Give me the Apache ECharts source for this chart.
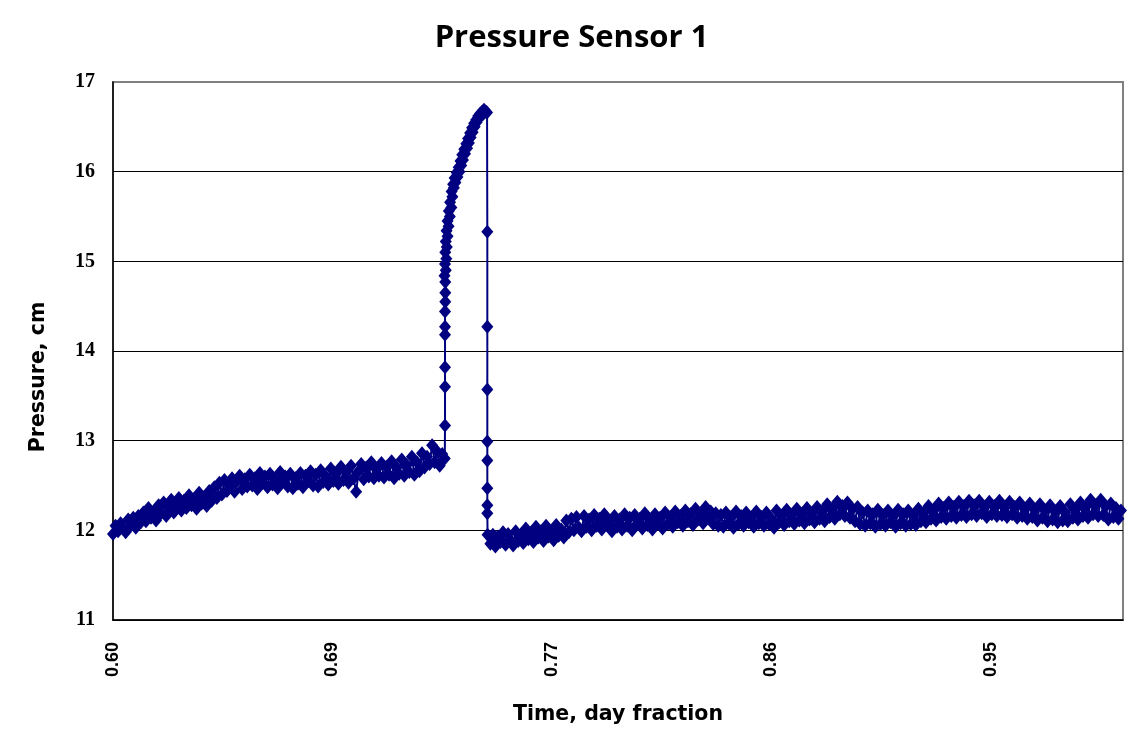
<!DOCTYPE html>
<html>
<head>
<meta charset="utf-8">
<title>Pressure Sensor 1</title>
<script src="https://cdn.jsdelivr.net/npm/echarts@6.0.0/dist/echarts.min.js"></script>
<style>
  html, body { margin: 0; padding: 0; background: #fff; }
  #chart { width: 1143px; height: 747px; }
</style>
</head>
<body>
<div id="chart"></div>
<script>
// readings [time (day fraction), pressure (cm)]
var beforeEvent = [
  [0.600, 11.96], [0.601, 12.05], [0.602, 11.99], [0.603, 12.08], [0.604, 12.02],
  [0.605, 11.98], [0.606, 12.12], [0.607, 12.05], [0.608, 12.14], [0.609, 12.03],
  [0.610, 12.16], [0.611, 12.09], [0.612, 12.20], [0.613, 12.10], [0.614, 12.25],
  [0.615, 12.14], [0.616, 12.21], [0.617, 12.11], [0.618, 12.28], [0.619, 12.19],
  [0.620, 12.31], [0.621, 12.16], [0.622, 12.27], [0.623, 12.34], [0.624, 12.20],
  [0.625, 12.30], [0.626, 12.36], [0.627, 12.22], [0.628, 12.33], [0.629, 12.25],
  [0.630, 12.39], [0.631, 12.28], [0.632, 12.35], [0.633, 12.24], [0.634, 12.42],
  [0.635, 12.30], [0.636, 12.37], [0.637, 12.27], [0.638, 12.44], [0.639, 12.33],
  [0.640, 12.48], [0.641, 12.36], [0.642, 12.53], [0.643, 12.40], [0.644, 12.56],
  [0.645, 12.44], [0.646, 12.50], [0.647, 12.58], [0.648, 12.43], [0.649, 12.55],
  [0.650, 12.61], [0.651, 12.46], [0.652, 12.57], [0.653, 12.49], [0.654, 12.62],
  [0.655, 12.50], [0.656, 12.58], [0.657, 12.46], [0.658, 12.64], [0.659, 12.53],
  [0.660, 12.60], [0.661, 12.48], [0.662, 12.63], [0.663, 12.51], [0.664, 12.57],
  [0.665, 12.47], [0.666, 12.65], [0.667, 12.54], [0.668, 12.60], [0.669, 12.49],
  [0.670, 12.63], [0.671, 12.47], [0.672, 12.58], [0.673, 12.52], [0.674, 12.64],
  [0.675, 12.48], [0.676, 12.61], [0.677, 12.55], [0.678, 12.66], [0.679, 12.50],
  [0.680, 12.62], [0.681, 12.49], [0.682, 12.67], [0.683, 12.54], [0.684, 12.60],
  [0.685, 12.51], [0.686, 12.69], [0.687, 12.55], [0.688, 12.63], [0.689, 12.52],
  [0.690, 12.71], [0.691, 12.56], [0.692, 12.65], [0.693, 12.53], [0.694, 12.72],
  [0.695, 12.58], [0.696, 12.43], [0.697, 12.66], [0.698, 12.74], [0.699, 12.57],
  [0.700, 12.70], [0.701, 12.60], [0.702, 12.76], [0.703, 12.58], [0.704, 12.68],
  [0.705, 12.61], [0.706, 12.75], [0.707, 12.59], [0.708, 12.71], [0.709, 12.62],
  [0.710, 12.77], [0.711, 12.58], [0.712, 12.70], [0.713, 12.63], [0.714, 12.79],
  [0.715, 12.61], [0.716, 12.73], [0.717, 12.65], [0.718, 12.82], [0.719, 12.62],
  [0.720, 12.76], [0.721, 12.66], [0.722, 12.86], [0.723, 12.70], [0.724, 12.82],
  [0.725, 12.74], [0.726, 12.95], [0.727, 12.76], [0.728, 12.88], [0.729, 12.72],
  [0.730, 12.85]
];

var rise = [
  [0.7310, 12.80], [0.7311, 13.17], [0.7311, 13.60], [0.7311, 13.82], [0.7311, 14.18],
  [0.7311, 14.27], [0.7311, 14.44], [0.7312, 14.55], [0.7312, 14.65], [0.7312, 14.77],
  [0.7309, 14.84], [0.7314, 14.90], [0.7311, 14.97], [0.7316, 15.03], [0.7312, 15.10],
  [0.7318, 15.16], [0.7314, 15.22], [0.7321, 15.28], [0.7317, 15.34], [0.7325, 15.39],
  [0.7321, 15.45], [0.7330, 15.50], [0.7326, 15.56], [0.7336, 15.60], [0.7331, 15.66],
  [0.7340, 15.72], [0.7337, 15.78], [0.7346, 15.82], [0.7343, 15.86], [0.7352, 15.88],
  [0.7349, 15.93], [0.7360, 15.94], [0.7357, 15.99], [0.7368, 16.00], [0.7365, 16.05],
  [0.7375, 16.07], [0.7372, 16.12], [0.7382, 16.13], [0.7379, 16.19], [0.7390, 16.20],
  [0.7387, 16.25], [0.7398, 16.26], [0.7395, 16.31], [0.7405, 16.32], [0.7402, 16.37],
  [0.7412, 16.38], [0.7410, 16.43], [0.7420, 16.44], [0.7418, 16.49], [0.7428, 16.50],
  [0.7426, 16.54], [0.7436, 16.55], [0.7434, 16.58], [0.7444, 16.59], [0.7442, 16.62],
  [0.7452, 16.62], [0.7450, 16.65], [0.7460, 16.64], [0.7458, 16.67], [0.7467, 16.66],
  [0.7465, 16.69], [0.7472, 16.67], [0.7477, 16.66]
];

var drop = [
  [0.7478, 15.33], [0.7478, 14.27], [0.7478, 13.57], [0.7478, 12.99], [0.7478, 12.78],
  [0.7478, 12.47], [0.7478, 12.28], [0.7478, 12.19], [0.7479, 11.95]
];

var afterEvent = [
  [0.749, 11.85], [0.750, 11.95], [0.751, 11.82], [0.752, 11.93], [0.753, 11.87],
  [0.754, 11.98], [0.755, 11.84], [0.756, 11.96], [0.757, 11.89], [0.758, 11.83],
  [0.759, 11.99], [0.760, 11.88], [0.761, 11.95], [0.762, 11.86], [0.763, 12.02],
  [0.764, 11.90], [0.765, 11.97], [0.766, 11.87], [0.767, 12.04], [0.768, 11.92],
  [0.769, 11.99], [0.770, 11.88], [0.771, 12.05], [0.772, 11.93], [0.773, 11.98],
  [0.774, 11.89], [0.775, 12.06], [0.776, 11.94], [0.777, 12.01], [0.778, 11.92],
  [0.779, 12.11], [0.780, 11.98], [0.781, 12.13], [0.782, 12.00], [0.783, 12.15],
  [0.784, 12.03], [0.785, 11.99], [0.786, 12.16], [0.787, 12.04], [0.788, 12.12],
  [0.789, 12.00], [0.790, 12.17], [0.791, 12.05], [0.792, 12.13], [0.793, 12.01],
  [0.794, 12.18], [0.795, 12.06], [0.796, 12.10], [0.797, 11.99], [0.798, 12.16],
  [0.799, 12.04], [0.800, 12.12], [0.801, 12.01], [0.802, 12.18], [0.803, 12.05],
  [0.804, 12.14], [0.805, 12.00], [0.806, 12.17], [0.807, 12.07], [0.808, 12.13],
  [0.809, 12.02], [0.810, 12.19], [0.811, 12.06], [0.812, 12.12], [0.813, 12.01],
  [0.814, 12.18], [0.815, 12.08], [0.816, 12.14], [0.817, 12.02], [0.818, 12.20],
  [0.819, 12.07], [0.820, 12.15], [0.821, 12.04], [0.822, 12.21], [0.823, 12.09],
  [0.824, 12.16], [0.825, 12.05], [0.826, 12.22], [0.827, 12.10], [0.828, 12.18],
  [0.829, 12.06], [0.830, 12.24], [0.831, 12.12], [0.832, 12.19], [0.833, 12.08],
  [0.834, 12.26], [0.835, 12.14], [0.836, 12.21], [0.837, 12.07], [0.838, 12.19],
  [0.839, 12.05], [0.840, 12.17], [0.841, 12.04], [0.842, 12.20], [0.843, 12.08],
  [0.844, 12.15], [0.845, 12.03], [0.846, 12.21], [0.847, 12.07], [0.848, 12.16],
  [0.849, 12.05], [0.850, 12.20], [0.851, 12.09], [0.852, 12.14], [0.853, 12.04],
  [0.854, 12.21], [0.855, 12.08], [0.856, 12.15], [0.857, 12.05], [0.858, 12.20],
  [0.859, 12.07], [0.860, 12.13], [0.861, 12.03], [0.862, 12.22], [0.863, 12.09],
  [0.864, 12.16], [0.865, 12.06], [0.866, 12.23], [0.867, 12.10], [0.868, 12.17],
  [0.869, 12.07], [0.870, 12.24], [0.871, 12.11], [0.872, 12.18], [0.873, 12.08],
  [0.874, 12.25], [0.875, 12.12], [0.876, 12.19], [0.877, 12.09], [0.878, 12.26],
  [0.879, 12.13], [0.880, 12.21], [0.881, 12.10], [0.882, 12.29], [0.883, 12.15],
  [0.884, 12.24], [0.885, 12.13], [0.886, 12.32], [0.887, 12.18], [0.888, 12.27],
  [0.889, 12.16], [0.890, 12.31], [0.891, 12.14], [0.892, 12.24], [0.893, 12.10],
  [0.894, 12.26], [0.895, 12.07], [0.896, 12.20], [0.897, 12.05], [0.898, 12.22],
  [0.899, 12.08], [0.900, 12.18], [0.901, 12.04], [0.902, 12.23], [0.903, 12.07],
  [0.904, 12.17], [0.905, 12.05], [0.906, 12.22], [0.907, 12.09], [0.908, 12.16],
  [0.909, 12.04], [0.910, 12.23], [0.911, 12.08], [0.912, 12.18], [0.913, 12.05],
  [0.914, 12.22], [0.915, 12.07], [0.916, 12.16], [0.917, 12.06], [0.918, 12.24],
  [0.919, 12.10], [0.920, 12.19], [0.921, 12.09], [0.922, 12.27], [0.923, 12.13],
  [0.924, 12.22], [0.925, 12.11], [0.926, 12.30], [0.927, 12.15], [0.928, 12.25],
  [0.929, 12.13], [0.930, 12.31], [0.931, 12.16], [0.932, 12.26], [0.933, 12.14],
  [0.934, 12.32], [0.935, 12.17], [0.936, 12.27], [0.937, 12.15], [0.938, 12.33],
  [0.939, 12.18], [0.940, 12.28], [0.941, 12.16], [0.942, 12.33], [0.943, 12.19],
  [0.944, 12.26], [0.945, 12.15], [0.946, 12.32], [0.947, 12.18], [0.948, 12.27],
  [0.949, 12.16], [0.950, 12.33], [0.951, 12.17], [0.952, 12.25], [0.953, 12.15],
  [0.954, 12.32], [0.955, 12.18], [0.956, 12.26], [0.957, 12.14], [0.958, 12.31],
  [0.959, 12.16], [0.960, 12.24], [0.961, 12.13], [0.962, 12.30], [0.963, 12.15],
  [0.964, 12.23], [0.965, 12.11], [0.966, 12.29], [0.967, 12.14], [0.968, 12.22],
  [0.969, 12.10], [0.970, 12.28], [0.971, 12.12], [0.972, 12.21], [0.973, 12.09],
  [0.974, 12.27], [0.975, 12.11], [0.976, 12.20], [0.977, 12.10], [0.978, 12.29],
  [0.979, 12.14], [0.980, 12.23], [0.981, 12.12], [0.982, 12.31], [0.983, 12.16],
  [0.984, 12.26], [0.985, 12.14], [0.986, 12.34], [0.987, 12.18], [0.988, 12.28],
  [0.989, 12.16], [0.990, 12.34], [0.991, 12.17], [0.992, 12.27], [0.993, 12.12],
  [0.994, 12.30], [0.995, 12.15], [0.996, 12.25], [0.997, 12.13], [0.998, 12.22]
];

// x tick positions (Excel spaced them evenly) and their printed labels
var xTickValues = [0.6, 0.686667, 0.773333, 0.86, 0.946667];
var xTickLabels = ['0.60', '0.69', '0.77', '0.86', '0.95'];

var allReadings = beforeEvent.concat(rise, drop, afterEvent);

var chart = echarts.init(document.getElementById('chart'));
var option = {
  animation: false,
  backgroundColor: '#fff',
  title: {
    text: 'Pressure Sensor 1',
    left: 'center',
    top: 18,
    textStyle: {
      fontFamily: 'Open Sans',
      fontWeight: 'bold',
      fontSize: 31,
      color: '#000'
    }
  },
  grid: {
    left: 113,
    right: 20,
    top: 82,
    bottom: 127,
    show: true,
    borderColor: '#808080',
    borderWidth: 2,
    backgroundColor: '#fff'
  },
  xAxis: {
    type: 'value',
    min: 0.6,
    max: 0.9988,
    name: 'Time, day fraction',
    nameLocation: 'middle',
    nameGap: 84,
    nameTextStyle: {
      fontFamily: 'DejaVu Sans',
      fontWeight: 'bold',
      fontSize: 20.5,
      color: '#000'
    },
    axisLine: { show: true, lineStyle: { color: '#000', width: 1.5 } },
    axisTick: { show: false },
    splitLine: { show: false },
    axisLabel: {
      customValues: xTickValues,
      rotate: 90,
      margin: 22,
      fontFamily: 'Liberation Sans',
      fontWeight: 'bold',
      fontSize: 18,
      color: '#000',
      formatter: function (v) {
        for (var i = 0; i < xTickValues.length; i++) {
          if (Math.abs(v - xTickValues[i]) < 1e-4) return xTickLabels[i];
        }
        return '';
      }
    }
  },
  yAxis: {
    type: 'value',
    min: 11,
    max: 17,
    interval: 1,
    name: 'Pressure, cm',
    nameLocation: 'middle',
    nameGap: 64,
    nameRotate: 90,
    nameTextStyle: {
      fontFamily: 'DejaVu Sans',
      fontWeight: 'bold',
      fontSize: 20.5,
      color: '#000',
      padding: [0, 52, 0, 0]
    },
    axisLine: { show: true, lineStyle: { color: '#000', width: 1.5 } },
    axisTick: { show: false },
    splitLine: {
      show: true,
      lineStyle: {
        color: ['#000', '#000', '#000', '#000', '#000', '#000', '#808080'],
        width: 1
      }
    },
    axisLabel: {
      margin: 18,
      fontFamily: 'Liberation Serif',
      fontWeight: 'bold',
      fontSize: 20,
      color: '#000'
    }
  },
  series: [{
    name: 'Pressure Sensor 1',
    type: 'line',
    data: allReadings,
    showAllSymbol: true,
    symbol: 'diamond',
    symbolSize: [12, 14],
    lineStyle: { color: '#000080', width: 2 },
    itemStyle: { color: '#000080' },
    emphasis: { disabled: true }
  }]
};
chart.setOption(option);

window.onresize = function () {
  chart.resize();
};
</script>
</body>
</html>
